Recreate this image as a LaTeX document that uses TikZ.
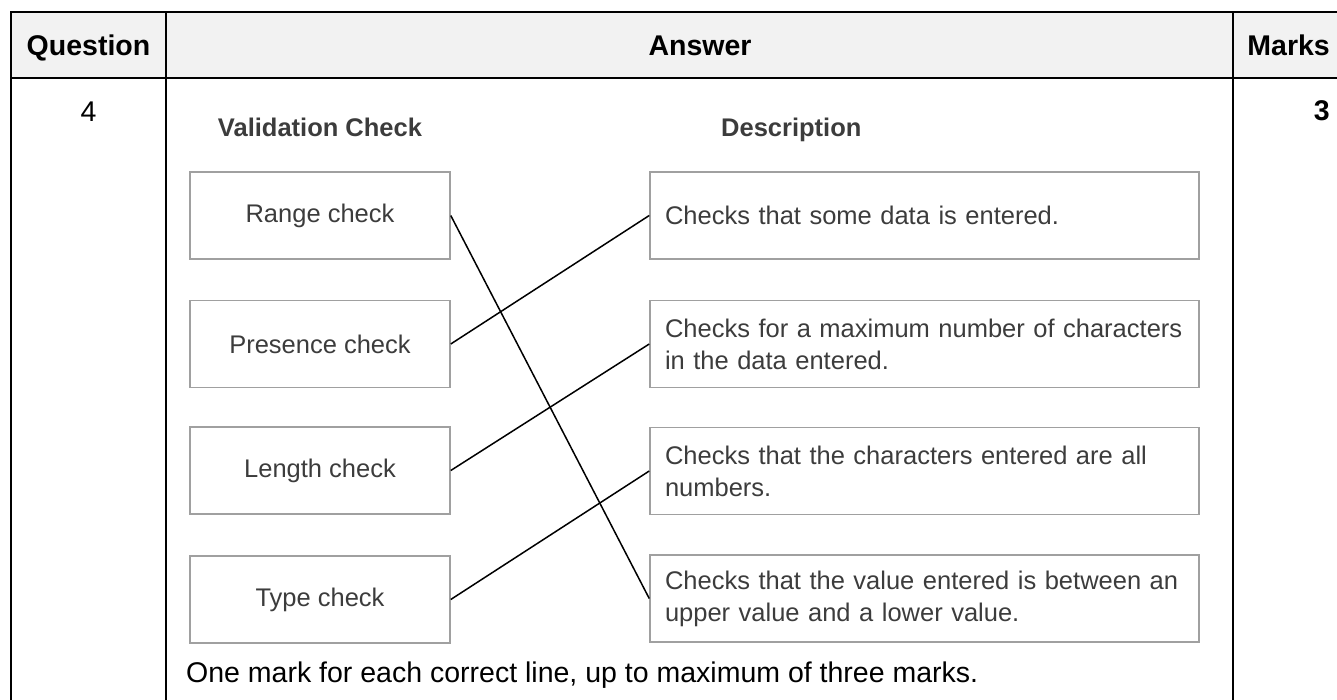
\documentclass[tikz,border=0pt]{standalone}
\usepackage{fontspec}
\setmainfont{Liberation Sans}
\usetikzlibrary{arrows}
\usetikzlibrary{shapes}
\definecolor{headGray}{HTML}{F2F2F2}
\definecolor{boxGray}{HTML}{A0A0A0}
\definecolor{inkGray}{HTML}{3C3C3C}

\begin{document}
\begin{tikzpicture}[x = 1pt, y = -1pt]
\tikzstyle{tableStyle}=[line width = 2pt]
\tikzstyle{headStyle}=[font = \fontsize{28.5}{32}\selectfont\bfseries, inner sep = 0pt]
\tikzstyle{bodyStyle}=[font = \fontsize{28.5}{32}\selectfont, inner sep = 0pt]
\tikzstyle{titleStyle}=[font = \fontsize{25.5}{30}\selectfont\bfseries, text = inkGray, inner sep = 0pt]
\tikzstyle{checkStyle}=[draw = boxGray, line width = 1.5pt, minimum width = 260pt, minimum height = 87pt, inner sep = 0pt, text = inkGray, font = \fontsize{25.5}{30}\selectfont]
\tikzstyle{descStyle}=[draw = boxGray, line width = 1.5pt, minimum height = 87pt, text width = 519pt, inner xsep = 15pt, inner ysep = 0pt, align = left, text = inkGray, font = \fontsize{25.5}{32}\selectfont]
\tikzstyle{lineStyle}=[line width = 1.5pt]
\useasboundingbox (0,0) rectangle (1337,700);
\fill[headGray] (11,12) rectangle (1345,78);
\draw[tableStyle] (11,705) -- (11,12) -- (1345,12);
\draw[tableStyle] (11,78) -- (1345,78);
\draw[tableStyle] (166,12) -- (166,705);
\draw[tableStyle] (1233,12) -- (1233,705);
\node[headStyle, anchor = base] (hq) at (88.5,55.5) {Question};
\node[headStyle, anchor = base] (ha) at (700,55.5) {Answer};
\node[headStyle, anchor = base east] (hm) at (1330,55.5) {Marks};
\node[bodyStyle, anchor = base] (qn) at (88.5,122) {4};
\node[headStyle, anchor = base east] (mk) at (1330,121) {3};
\node[titleStyle, anchor = base] (tc) at (320,137) {Validation Check};
\node[titleStyle, anchor = base west] (td) at (721,137) {Description};
\node[checkStyle] (c0) at (320,215.5) {Range check};
\node[checkStyle] (c1) at (320,344) {Presence check};
\node[checkStyle] (c2) at (320,470.5) {Length check};
\node[checkStyle] (c3) at (320,599.5) {Type check};
\node[descStyle] (d0) at (924.5,215.5) {Checks that some data is entered.};
\node[descStyle] (d1) at (924.5,344) {Checks for a maximum number of characters\\in the data entered.};
\node[descStyle] (d2) at (924.5,471) {Checks that the characters entered are all\\numbers.};
\node[descStyle] (d3) at (924.5,598.5) {Checks that the value entered is between an\\upper value and a lower value.};
\draw[lineStyle] (c0.east) -- (d3.west);
\draw[lineStyle] (c1.east) -- (d0.west);
\draw[lineStyle] (c2.east) -- (d1.west);
\draw[lineStyle] (c3.east) -- (d2.west);
\node[bodyStyle, anchor = base west] (nt) at (186,682) {One mark for each correct line, up to maximum of three marks.};
\end{tikzpicture}
\end{document}
